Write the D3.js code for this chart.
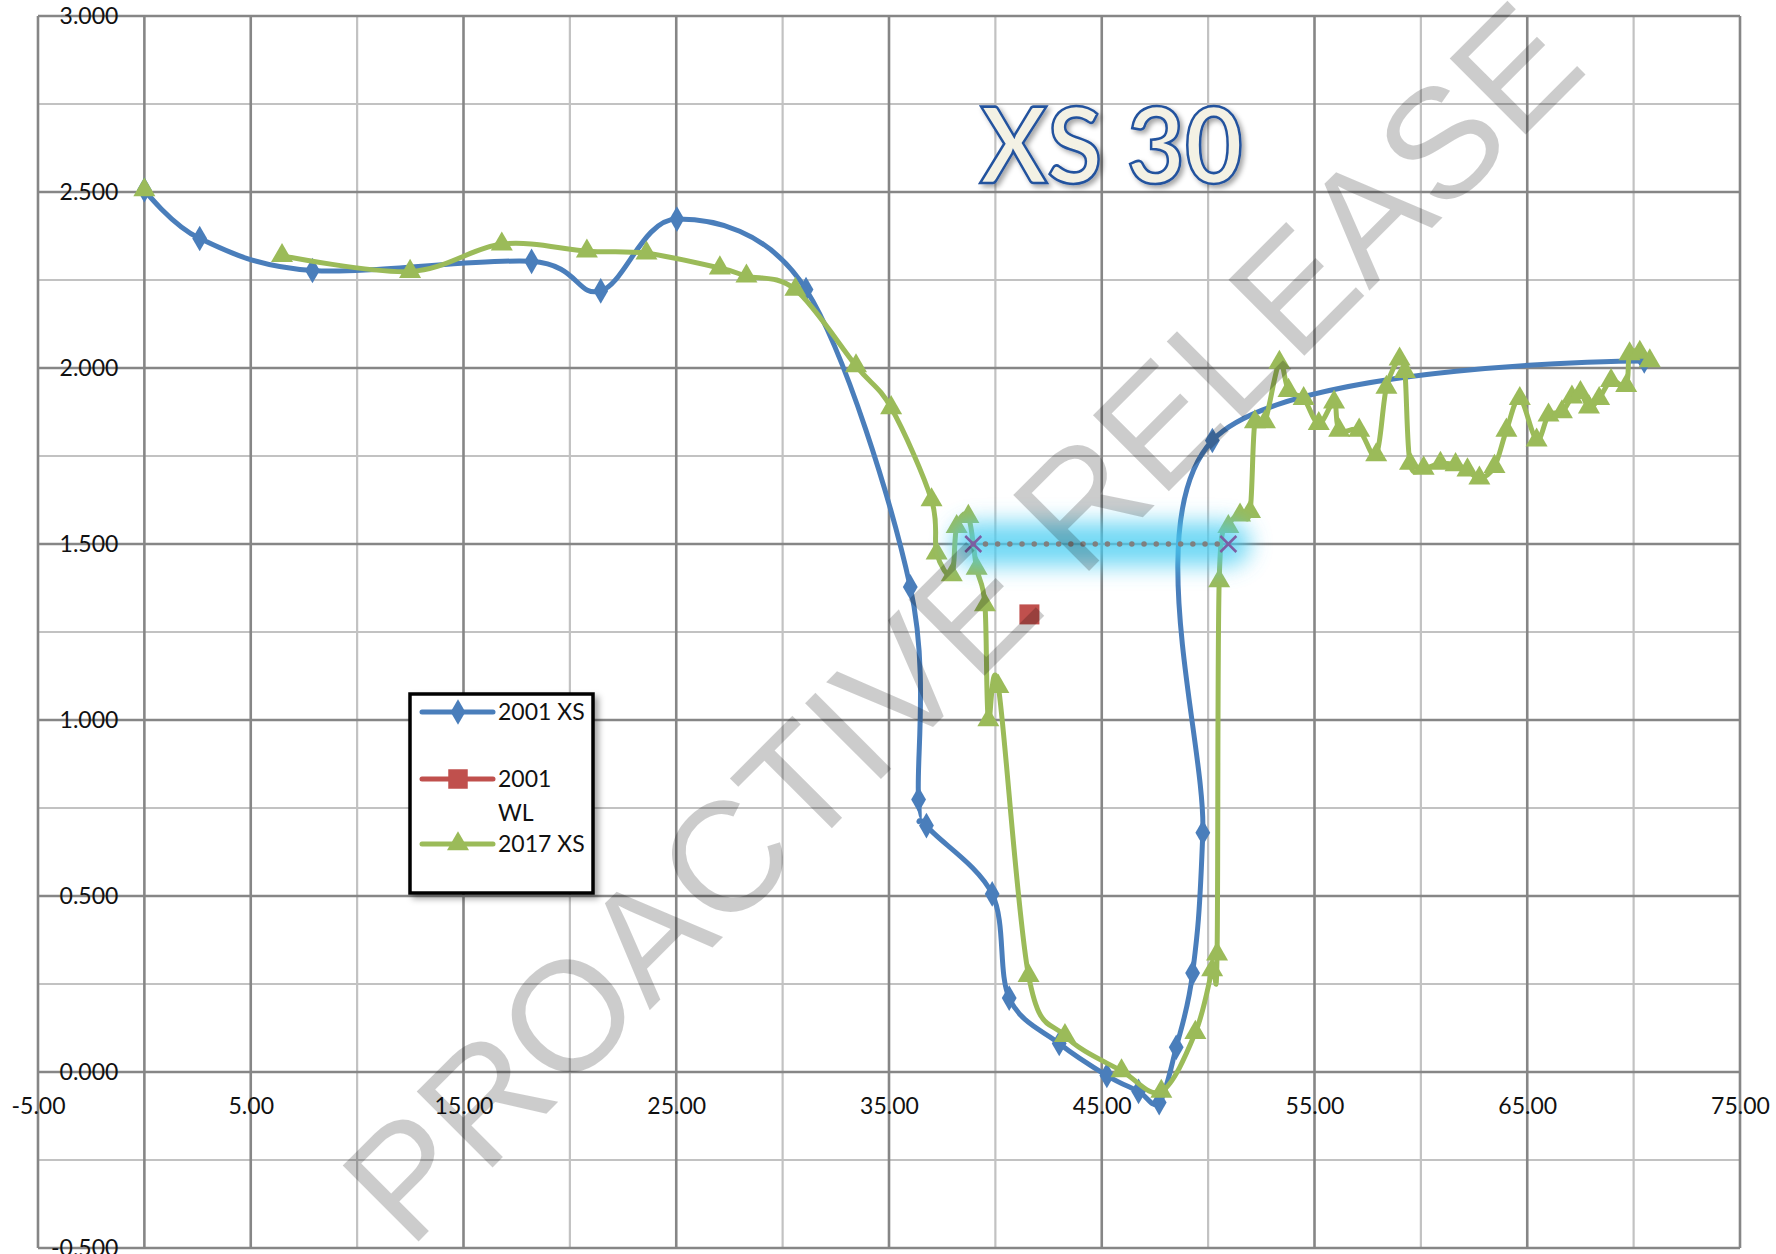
<!DOCTYPE html>
<html><head><meta charset="utf-8">
<script src="https://cdn.jsdelivr.net/npm/d3@7"></script>
<style>
html,body{margin:0;padding:0;background:#fff;}
svg{display:block;}
</style></head><body>
<svg id="chart" width="1776" height="1254"></svg>
<script>
// ---------------- data ----------------
const seriesNames = ["2001 XS", "2001 WL", "2017 XS"];

const xs2001X = [0, 2.6, 7.9, 18.2, 21.45, 25.03, 31.1, 36.0, 36.39, 36.76, 39.85, 40.65, 43.0, 45.24, 46.73, 47.7, 48.5, 49.27, 49.75, 50.2, 70.5];
const xs2001Y = [2.506, 2.368, 2.277, 2.303, 2.219, 2.423, 2.223, 1.378, 0.774, 0.700, 0.506, 0.210, 0.081, -0.010, -0.055, -0.087, 0.070, 0.281, 0.680, 1.794, 2.020];

const wl2001X = [41.6];
const wl2001Y = [1.30];

// null = empty cell (line gap after the first survey point)
const xs2017X = [0, null, 6.47, 12.49, 16.8, 20.8, 23.6, 27.05, 28.3, 30.6, 33.45, 35.1, 37.0, 37.24, 37.95, 38.18, 38.73, 39.12, 39.51, 39.67, 40.14, 41.56, 43.27, 45.93, 47.8, 49.4, 50.19, 50.42, 50.52, 50.95, 51.5, 51.97, 52.2, 52.67, 53.35, 53.78, 54.49, 55.2, 55.92, 56.16, 57.1, 57.9, 58.38, 59.0, 59.25, 59.49, 60.13, 60.92, 61.63, 62.19, 62.75, 63.46, 64.02, 64.65, 65.44, 66.0, 66.63, 67.1, 67.5, 67.9, 68.38, 68.94, 69.65, 69.81, 70.29, 70.76];
const xs2017Y = [2.506, null, 2.319, 2.274, 2.352, 2.332, 2.326, 2.284, 2.261, 2.223, 2.006, 1.887, 1.625, 1.474, 1.412, 1.549, 1.578, 1.431, 1.327, 1.000, 1.095, 0.274, 0.103, 0.003, -0.055, 0.112, 0.290, 0.335, 1.395, 1.549, 1.582, 1.592, 1.847, 1.847, 2.016, 1.936, 1.913, 1.842, 1.903, 1.823, 1.823, 1.753, 1.945, 2.025, 1.990, 1.729, 1.715, 1.729, 1.725, 1.710, 1.687, 1.720, 1.823, 1.913, 1.795, 1.866, 1.875, 1.917, 1.930, 1.889, 1.913, 1.964, 1.950, 2.040, 2.044, 2.020];

// level line (glow, dotted, purple crosses)
const levelX = [38.96, 50.95];
const levelY = [1.5, 1.5];

const xTickValues = [-5, 5, 15, 25, 35, 45, 55, 65, 75];
const xTickLabels = ["-5.00", "5.00", "15.00", "25.00", "35.00", "45.00", "55.00", "65.00", "75.00"];
const yTickValues = [3, 2.5, 2, 1.5, 1, 0.5, 0, -0.5];
const yTickLabels = ["3.000", "2.500", "2.000", "1.500", "1.000", "0.500", "0.000", "-0.500"];
const xGridValues = d3.range(-5, 75.001, 5);
const yGridValues = d3.range(-0.5, 3.001, 0.25);

const titleText = "XS 30";
const watermarkText = "PROACTIVE RELEASE";

// ---------------- drawing ----------------
const svg = d3.select("#chart");
const x = d3.scaleLinear().domain([-5, 75]).range([38, 1740]);
const y = d3.scaleLinear().domain([-0.5, 3]).range([1248, 16]);

const FONT = "Lato, 'Liberation Sans', sans-serif";
const BLUE = "#4a7ebb", RED = "#c0504d", GREEN = "#9bbb59", PURPLE = "#7c5ea3";
const MAJOR = "#868686", MINOR = "#c2c2c2";

const defs = svg.append("defs");
const glow = defs.append("filter").attr("id", "glow").attr("filterUnits", "userSpaceOnUse")
  .attr("x", 0).attr("y", 0).attr("width", 1776).attr("height", 1254);
glow.append("feGaussianBlur").attr("stdDeviation", 11);
const shadow = defs.append("filter").attr("id", "shadow").attr("x", "-10%").attr("y", "-10%").attr("width", "130%").attr("height", "130%");
shadow.append("feDropShadow").attr("dx", 4).attr("dy", 4).attr("stdDeviation", 3).attr("flood-color", "#000").attr("flood-opacity", 0.35);
const tshadow = defs.append("filter").attr("id", "tshadow").attr("x", "-10%").attr("y", "-20%").attr("width", "130%").attr("height", "150%");
tshadow.append("feDropShadow").attr("dx", 3).attr("dy", 3).attr("stdDeviation", 2.5).attr("flood-color", "#000").attr("flood-opacity", 0.35);

// gridlines
const grid = svg.append("g");
const isMajorX = v => Math.abs(((v + 5) % 10)) < 1e-6 || Math.abs(v) < 1e-6;
const isMajorY = v => Math.abs((v * 2) - Math.round(v * 2)) < 1e-6;
grid.selectAll("line.v").data(xGridValues.filter(v => !isMajorX(v))).join("line")
  .attr("x1", d => x(d)).attr("x2", d => x(d)).attr("y1", y(3)).attr("y2", y(-0.5))
  .attr("stroke", MINOR).attr("stroke-width", 2.2);
grid.selectAll("line.h").data(yGridValues.filter(v => !isMajorY(v))).join("line")
  .attr("y1", d => y(d)).attr("y2", d => y(d)).attr("x1", x(-5)).attr("x2", x(75))
  .attr("stroke", MINOR).attr("stroke-width", 2.2);
grid.selectAll("line.vm").data(xGridValues.filter(isMajorX)).join("line")
  .attr("x1", d => x(d)).attr("x2", d => x(d)).attr("y1", y(3)).attr("y2", y(-0.5))
  .attr("stroke", MAJOR).attr("stroke-width", 2.6);
grid.selectAll("line.hm").data(yGridValues.filter(isMajorY)).join("line")
  .attr("y1", d => y(d)).attr("y2", d => y(d)).attr("x1", x(-5)).attr("x2", x(75))
  .attr("stroke", MAJOR).attr("stroke-width", 2.6);

// axes (labels only)
const xAxis = d3.axisBottom(x).tickValues(xTickValues).tickSize(0).tickPadding(26)
  .tickFormat((d, i) => xTickLabels[i]);
const gx = svg.append("g").attr("transform", `translate(0,${y(0)})`).call(xAxis);
gx.select(".domain").remove();
gx.selectAll("text").attr("font-family", FONT).attr("font-size", 23).attr("fill", "#111");

const yAxis = d3.axisLeft(y).tickValues(yTickValues).tickSize(0).tickPadding(26)
  .tickFormat((d, i) => yTickLabels[i]);
const gy = svg.append("g").attr("transform", `translate(${x(0)},0)`).call(yAxis);
gy.select(".domain").remove();
gy.selectAll("text").attr("font-family", FONT).attr("font-size", 23).attr("fill", "#111");

// series
const line = d3.line().defined(d => d[0] != null && d[1] != null)
  .x(d => x(d[0])).y(d => y(d[1])).curve(d3.curveCatmullRom.alpha(0));
const zip = (a, b) => a.map((v, i) => [v, b[i]]);
const d2001 = zip(xs2001X, xs2001Y);
const dWL = zip(wl2001X, wl2001Y);
const d2017 = zip(xs2017X, xs2017Y);
const dLevel = zip(levelX, levelY);

const diamond = d3.symbol().type(d3.symbolDiamond).size(190);
const tri = d3.symbol().type(d3.symbolTriangle).size(210);
const sq = d3.symbol().type(d3.symbolSquare).size(400);

// 2001 XS
svg.append("path").datum(d2001).attr("d", line).attr("fill", "none").attr("stroke", BLUE).attr("stroke-width", 5).attr("stroke-linejoin", "round");
svg.append("g").selectAll("path").data(d2001).join("path")
  .attr("d", diamond).attr("transform", d => `translate(${x(d[0])},${y(d[1])})`).attr("fill", BLUE);

// 2001 WL
svg.append("g").selectAll("path").data(dWL).join("path")
  .attr("d", sq).attr("transform", d => `translate(${x(d[0])},${y(d[1])})`).attr("fill", RED);

// 2017 XS
svg.append("path").datum(d2017).attr("d", line).attr("fill", "none").attr("stroke", GREEN).attr("stroke-width", 5).attr("stroke-linejoin", "round");
svg.append("g").selectAll("path").data(d2017.filter(d => d[0] != null)).join("path")
  .attr("d", tri).attr("transform", d => `translate(${x(d[0])},${y(d[1])})`).attr("fill", GREEN);

// level line: glow + dotted + crosses
const straight = d3.line().x(d => x(d[0])).y(d => y(d[1]));
svg.append("path").datum(dLevel).attr("d", straight)
  .attr("stroke", "#45ccf2").attr("stroke-width", 44).attr("stroke-linecap", "round")
  .attr("opacity", 0.75).attr("filter", "url(#glow)").attr("fill", "none");
svg.append("path").datum(dLevel).attr("d", straight)
  .attr("stroke", "#7f7f7f").attr("stroke-width", 5.5).attr("stroke-linecap", "round")
  .attr("stroke-dasharray", "0,12.2").attr("fill", "none");
svg.append("g").selectAll("path").data(dLevel).join("path")
  .attr("d", "M-8,-8L8,8M-8,8L8,-8")
  .attr("transform", d => `translate(${x(d[0])},${y(d[1])})`)
  .attr("stroke", PURPLE).attr("stroke-width", 2.5).attr("fill", "none");

// legend
const legend = svg.append("g").attr("transform", "translate(410,694)");
legend.append("rect").attr("width", 183).attr("height", 199).attr("fill", "#fff")
  .attr("stroke", "#000").attr("stroke-width", 3.5).attr("filter", "url(#shadow)");
const legendRows = [
  {name: seriesNames[0], color: BLUE, sym: diamond, lines: ["2001 XS"], cy: 18},
  {name: seriesNames[1], color: RED, sym: d3.symbol().type(d3.symbolSquare).size(380), lines: ["2001", "WL"], cy: 85},
  {name: seriesNames[2], color: GREEN, sym: tri, lines: ["2017 XS"], cy: 150}
];
const lr = legend.selectAll("g.row").data(legendRows).join("g").attr("transform", d => `translate(0,${d.cy})`);
lr.append("line").attr("x1", 12).attr("x2", 83).attr("stroke", d => d.color).attr("stroke-width", 5).attr("stroke-linecap", "round");
lr.append("path").attr("d", d => d.sym()).attr("transform", "translate(48,0)").attr("fill", d => d.color);
lr.each(function(d) {
  const g = d3.select(this);
  d.lines.forEach((t, i) => {
    g.append("text").attr("x", 88).attr("y", i * 34).attr("dy", "0.35em")
      .attr("font-family", FONT).attr("font-size", 23).attr("fill", "#111").text(t);
  });
});

// title
svg.append("text").attr("x", 980).attr("y", 183)
  .attr("font-family", FONT).attr("font-weight", "bold").attr("font-size", 106)
  .attr("textLength", 263).attr("lengthAdjust", "spacingAndGlyphs")
  .attr("fill", "#f3f1e4").attr("stroke", "#24529e").attr("stroke-width", 2.6)
  .attr("filter", "url(#tshadow)").text(titleText);

// watermark
svg.append("text").attr("transform", "translate(1000,660) rotate(-45)")
  .attr("text-anchor", "middle").attr("font-family", "'Liberation Sans', Arial, sans-serif")
  .attr("font-size", 156).attr("textLength", 1670).attr("lengthAdjust", "spacingAndGlyphs")
  .attr("fill", "#000").attr("fill-opacity", 0.2).text(watermarkText);
</script>
</body></html>
